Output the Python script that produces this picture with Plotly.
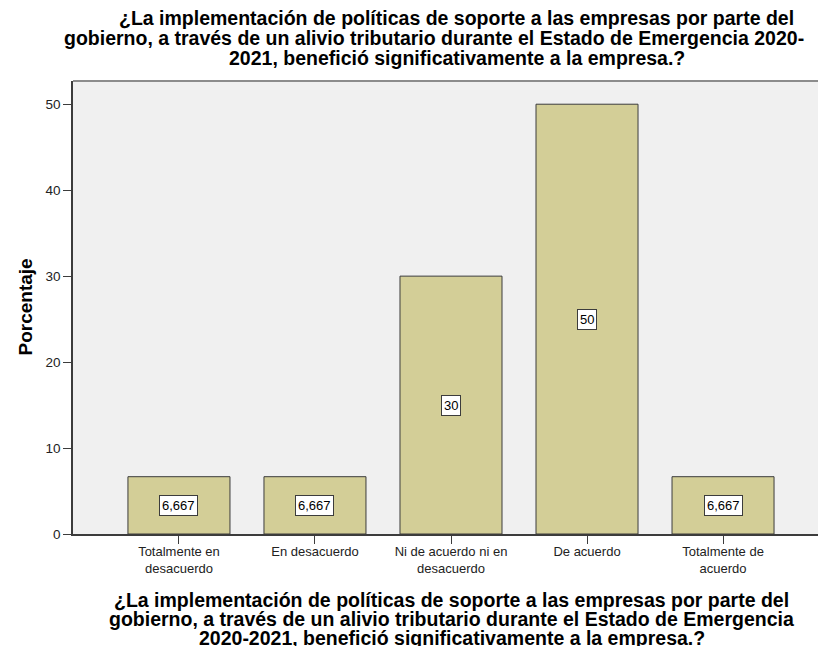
import plotly.graph_objects as go

categories = ["Totalmente en<br>desacuerdo", "En desacuerdo", "Ni de acuerdo ni en<br>desacuerdo",
              "De acuerdo", "Totalmente de<br>acuerdo"]
percentages = [6.667, 6.667, 30, 50, 6.667]
bar_labels = ["6,667", "6,667", "30", "50", "6,667"]
y_ticks = [0, 10, 20, 30, 40, 50]

title_lines = ["¿La implementación de políticas de soporte a las empresas por parte del",
               "gobierno, a través de un alivio tributario durante el Estado de Emergencia 2020-",
               "2021, benefició significativamente a la empresa.?"]
xtitle_lines = ["¿La implementación de políticas de soporte a las empresas por parte del",
                "gobierno, a través de un alivio tributario durante el Estado de Emergencia",
                "2020-2021, benefició significativamente a la empresa.?"]
y_title = "Porcentaje"

FONT = "Arial, Liberation Sans, sans-serif"
xs = list(range(len(categories)))

fig = go.Figure()
fig.add_trace(go.Bar(
    x=xs, y=percentages, width=0.75,
    marker=dict(color="#D3CE97", line=dict(color="#3C3C3C", width=1)),
    hoverinfo="skip", showlegend=False,
))

for xi, v, lab in zip(xs, percentages, bar_labels):
    fig.add_annotation(x=xi, y=v / 2, text=lab, showarrow=False,
                       font=dict(family=FONT, size=13, color="#000000"),
                       bgcolor="#FFFFFF", bordercolor="#3C3C3C", borderwidth=1, borderpad=2)

# chart title, one annotation per line (tight line spacing)
title_x = [2.044, 1.875, 2.044]
title_shift = [63, 43, 23]
for line, tx, sh in zip(title_lines, title_x, title_shift):
    fig.add_annotation(xref="x", yref="paper", x=tx, y=1, yshift=sh, yanchor="middle",
                       text="<b>" + line + "</b>", showarrow=False,
                       font=dict(family=FONT, size=19.5, color="#000000"))

# x-axis title lines
xt_shift = [-66, -85, -104]
for line, sh in zip(xtitle_lines, xt_shift):
    fig.add_annotation(xref="x", yref="paper", x=2.007, y=0, yshift=sh, yanchor="middle",
                       text="<b>" + line + "</b>", showarrow=False,
                       font=dict(family=FONT, size=19.5, color="#000000"))

# y-axis title
fig.add_annotation(xref="paper", yref="paper", x=0, xshift=-48, xanchor="center",
                   y=0.5, yanchor="middle", textangle=-90,
                   text="<b>" + y_title + "</b>", showarrow=False,
                   font=dict(family=FONT, size=19, color="#000000"))

# top border line
fig.add_shape(type="line", xref="paper", yref="paper", x0=0, x1=1, y0=1, y1=1,
              line=dict(color="#8C8C8C", width=2))

fig.update_layout(
    width=818, height=638,
    margin=dict(l=65, r=0, t=73, b=112),
    paper_bgcolor="#FFFFFF", plot_bgcolor="#F0F0F0",
    font=dict(family=FONT, size=13, color="#333333"),
)
fig.update_xaxes(
    range=[-0.779, 4.757], tickmode="array", tickvals=xs, ticktext=categories,
    ticks="outside", ticklen=8, tickcolor="#3C3C3C", showgrid=False, zeroline=False,
    showline=True, linecolor="#3C3C3C", linewidth=1.5, ticklabelstandoff=-3,
    tickfont=dict(family=FONT, size=13, color="#222222"),
)
fig.update_yaxes(
    range=[0, 52.7], tickvals=y_ticks, ticks="outside", ticklen=8, tickcolor="#3C3C3C",
    showgrid=False, zeroline=False, showline=True, linecolor="#3C3C3C", linewidth=1.5,
    tickfont=dict(family=FONT, size=13.5, color="#222222"),
)

fig.write_html("out.html")
